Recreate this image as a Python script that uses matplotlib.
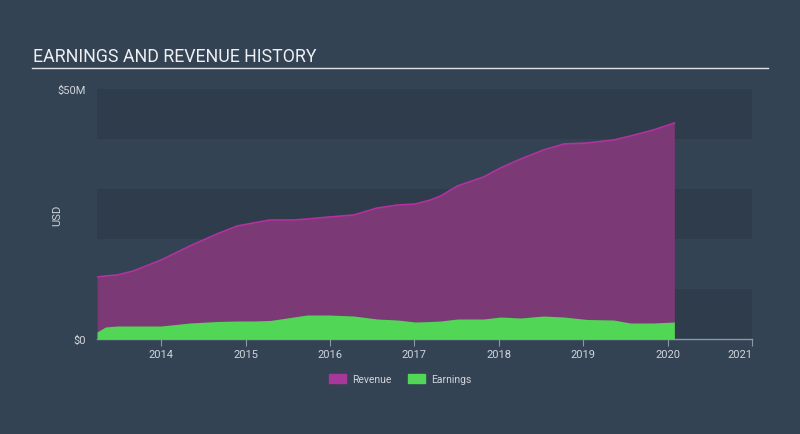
import matplotlib
matplotlib.use("Agg")
import matplotlib.pyplot as plt
from matplotlib.patches import Patch

# decimal years of each sample, values in $M
dates = [2013.24, 2013.34, 2013.48, 2013.67, 2014.00, 2014.34, 2014.66, 2014.90,
         2015.09, 2015.29, 2015.57, 2015.73, 2015.99, 2016.28, 2016.56, 2016.80,
         2017.01, 2017.19, 2017.31, 2017.51, 2017.82, 2018.02, 2018.26, 2018.53,
         2018.77, 2019.05, 2019.36, 2019.56, 2019.83, 2020.08]
revenue = [12.4, 12.6, 12.8, 13.6, 15.8, 18.6, 21.0, 22.6,
           23.2, 23.8, 23.8, 24.0, 24.4, 24.8, 26.2, 26.8,
           27.0, 27.8, 28.6, 30.6, 32.4, 34.2, 36.0, 37.8,
           39.0, 39.2, 39.8, 40.6, 41.8, 43.2]
earnings = [1.4, 2.4, 2.6, 2.6, 2.6, 3.2, 3.5, 3.6,
            3.6, 3.7, 4.4, 4.8, 4.8, 4.6, 4.0, 3.8,
            3.4, 3.5, 3.6, 4.0, 4.0, 4.4, 4.2, 4.6,
            4.4, 3.9, 3.8, 3.2, 3.2, 3.4]
year_ticks = [2014, 2015, 2016, 2017, 2018, 2019, 2020, 2021]

BG = '#334354'
DARK_BAND = '#2e3c4b'
TEXT = '#d0d5db'
REV_FILL = '#7b3a75'
REV_LINE = '#b3329f'
EARN = '#52d655'

plt.rcParams['font.family'] = ['Roboto', 'DejaVu Sans']

fig = plt.figure(figsize=(8, 4.35), dpi=100, facecolor=BG)
ax = fig.add_axes([97 / 800, 95 / 435, 655 / 800, 250 / 435])
ax.set_facecolor('none')

for lo in (0, 20, 40):
    ax.axhspan(lo, lo + 10, color=DARK_BAND, lw=0, zorder=0)

ax.fill_between(dates, 0, revenue, color=REV_FILL, lw=0, zorder=2)
ax.plot(dates, revenue, color=REV_LINE, lw=1.2, zorder=3)
ax.fill_between(dates, 0, earnings, color=EARN, lw=0, zorder=4)

ax.set_xlim(2013.24, 2021.0)
ax.set_ylim(0, 50)

for s in ('top', 'right', 'left'):
    ax.spines[s].set_visible(False)
ax.spines['bottom'].set_color('#8c97a4')
ax.spines['bottom'].set_linewidth(1)

ax.set_xticks(year_ticks)
ax.set_xticklabels([str(y) for y in year_ticks])
ax.tick_params(axis='x', colors='#8c97a4', labelcolor=TEXT, labelsize=8, length=5, pad=2)
ax.get_xticklabels()[-1].set_horizontalalignment('right')
ax.set_yticks([0, 50])
ax.set_yticklabels(['$0', '$50M'])
ax.tick_params(axis='y', length=0, labelcolor=TEXT, labelsize=8, pad=8)
ax.set_ylabel('USD', color=TEXT, fontsize=8)
ax.yaxis.set_label_coords(-35 / 655, 0.5)

fig.text(33 / 800, 1 - 57 / 435, 'EARNINGS AND REVENUE HISTORY', color='#eef0f2',
         fontsize=12.8, va='center', ha='left')
fig.add_artist(plt.Line2D([32 / 800, 768 / 800], [1 - 69 / 435, 1 - 69 / 435],
                          color='#dfe3e7', lw=1))

handles = [Patch(color='#a8379a', label='Revenue'), Patch(color=EARN, label='Earnings')]
fig.legend(handles=handles, loc='center', bbox_to_anchor=(400 / 800, 1 - 380 / 435),
           ncol=2, frameon=False, fontsize=7.5, labelcolor=TEXT,
           handlelength=1.6, handleheight=1.0, columnspacing=1.6, handletextpad=0.6)

fig.savefig('out.png', dpi=100, facecolor=BG)
